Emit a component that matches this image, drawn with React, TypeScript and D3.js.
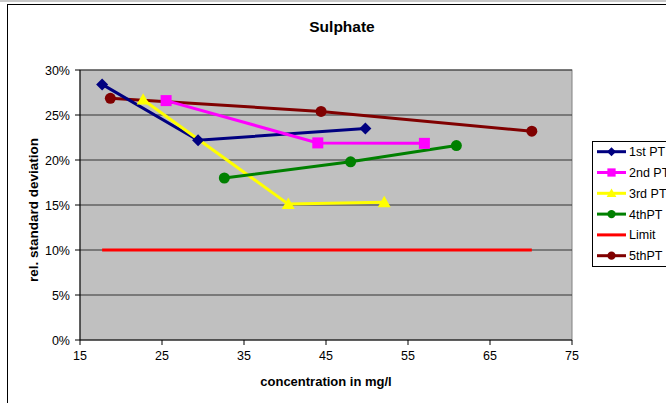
import React from "react";
import * as d3 from "d3";

const xTicks = [15, 25, 35, 45, 55, 65, 75];
const yTicks = [0, 0.05, 0.1, 0.15, 0.2, 0.25, 0.3];

const pt1X = [17.7, 29.4, 49.8];
const pt1Y = [0.284, 0.222, 0.235];
const pt2X = [25.5, 44.0, 57.0];
const pt2Y = [0.266, 0.219, 0.2185];
const pt3X = [22.7, 40.4, 52.1];
const pt3Y = [0.267, 0.151, 0.153];
const pt4X = [32.6, 48.0, 60.9];
const pt4Y = [0.18, 0.198, 0.216];
const limitX = [17.7, 70.1];
const limitY = [0.1, 0.1];
const pt5X = [18.7, 44.4, 70.1];
const pt5Y = [0.2685, 0.254, 0.232];

type Series = { name: string; xs: number[]; ys: number[]; color: string; marker: string };

const series: Series[] = [
  { name: "1st PT", xs: pt1X, ys: pt1Y, color: "#000080", marker: "diamond" },
  { name: "2nd PT", xs: pt2X, ys: pt2Y, color: "#FF00FF", marker: "square" },
  { name: "3rd PT", xs: pt3X, ys: pt3Y, color: "#FFFF00", marker: "triangle" },
  { name: "4thPT", xs: pt4X, ys: pt4Y, color: "#008000", marker: "circle" },
  { name: "Limit", xs: limitX, ys: limitY, color: "#FF0000", marker: "none" },
  { name: "5thPT", xs: pt5X, ys: pt5Y, color: "#800000", marker: "circle" },
];
const lineOrder = [5, 0, 1, 2, 3, 4];
const markerOrder = [5, 0, 1, 2, 3, 4];

const L = 80, R = 572, T = 70, B = 340;
const x = d3.scaleLinear().domain([15, 75]).range([L, R]);
const y = d3.scaleLinear().domain([0, 0.3]).range([B, T]);

function Marker({ type, cx, cy, color, s = 1 }: { type: string; cx: number; cy: number; color: string; s?: number }) {
  if (type === "diamond") {
    const r = 6 * s;
    return <path d={`M${cx},${cy - r}L${cx + r},${cy}L${cx},${cy + r}L${cx - r},${cy}Z`} fill={color} />;
  }
  if (type === "square") {
    const r = 5.5 * s;
    return <rect x={cx - r} y={cy - r} width={2 * r} height={2 * r} fill={color} />;
  }
  if (type === "triangle") {
    const r = 6.5 * s;
    return <path d={`M${cx},${cy - r}L${cx + r},${cy + r * 0.75}L${cx - r},${cy + r * 0.75}Z`} fill={color} />;
  }
  if (type === "circle") {
    return <circle cx={cx} cy={cy} r={5.5 * s} fill={color} />;
  }
  return null;
}

export default function App() {
  const line = d3.line<[number, number]>().x((d) => x(d[0])).y((d) => y(d[1]));
  const font = "Arial, 'Liberation Sans', sans-serif";
  return (
    <svg width={666} height={403} style={{ position: "absolute", left: 0, top: 0, background: "#fff" }} fontFamily={font}>
      <rect x={0} y={0} width={666} height={2} fill="#c8c8c8" />
      <rect x={7.5} y={4.5} width={700} height={450} fill="#fff" stroke="#000" strokeWidth={1} />
      <text x={342} y={32} textAnchor="middle" fontSize={15.5} fontWeight="bold">Sulphate</text>
      <rect x={L} y={T} width={R - L} height={B - T} fill="#C0C0C0" stroke="#808080" strokeWidth={1} />
      {yTicks.map((t) => (
        <g key={t}>
          {t > 0 && <line x1={L} x2={R} y1={y(t)} y2={y(t)} stroke="#333" strokeWidth={1} />}
          <line x1={L - 5} x2={L} y1={y(t)} y2={y(t)} stroke="#000" />
          <text x={70} y={y(t) + 4.5} textAnchor="end" fontSize={12.5}>{d3.format(".0%")(t)}</text>
        </g>
      ))}
      <line x1={L} x2={L} y1={T} y2={B} stroke="#000" />
      <line x1={L} x2={R} y1={B} y2={B} stroke="#000" />
      {xTicks.map((t) => (
        <g key={t}>
          <line x1={x(t)} x2={x(t)} y1={B} y2={B + 5} stroke="#000" />
          <text x={x(t)} y={B + 20} textAnchor="middle" fontSize={12.5}>{t}</text>
        </g>
      ))}
      <text x={326} y={386} textAnchor="middle" fontSize={13} fontWeight="bold">concentration in mg/l</text>
      <text transform={`translate(38,${(T + B) / 2 + 5}) rotate(-90)`} textAnchor="middle" fontSize={13.5} fontWeight="bold">rel. standard deviation</text>
      {lineOrder.map((i) => {
        const s = series[i];
        const pts = s.xs.map((v, j) => [v, s.ys[j]] as [number, number]);
        return <path key={s.name} d={line(pts) || ""} fill="none" stroke={s.color} strokeWidth={3} />;
      })}
      {markerOrder.map((i) => {
        const s = series[i];
        return (
          <g key={s.name}>
            {s.xs.map((v, j) => (
              <Marker key={j} type={s.marker} cx={x(v)} cy={y(s.ys[j])} color={s.color} />
            ))}
          </g>
        );
      })}
      <rect x={592.5} y={141.5} width={100} height={125} fill="#fff" stroke="#000" />
      {series.map((s, i) => {
        const cy = 151.7 + i * 20.8;
        return (
          <g key={s.name}>
            <line x1={597} x2={626} y1={cy} y2={cy} stroke={s.color} strokeWidth={3} />
            <Marker type={s.marker} cx={611.5} cy={cy} color={s.color} s={0.75} />
            <text x={629} y={cy + 4.5} fontSize={12.5}>{s.name}</text>
          </g>
        );
      })}
    </svg>
  );
}
